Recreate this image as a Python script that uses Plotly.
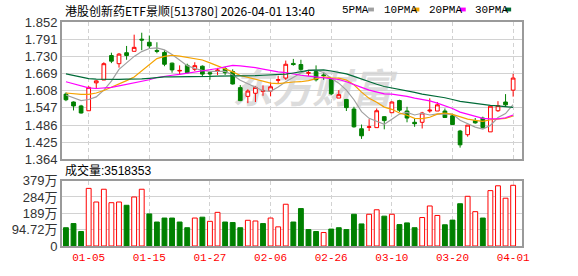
import plotly.graph_objects as go

# ---------------- data ----------------
dates = ["12-29", "12-30", "12-31",
         "01-05", "01-06", "01-07", "01-08", "01-09", "01-12", "01-13", "01-14", "01-15",
         "01-16", "01-19", "01-20", "01-21", "01-22", "01-23", "01-26", "01-27",
         "01-28", "01-29", "01-30", "02-02", "02-03", "02-04", "02-05", "02-06",
         "02-09", "02-10", "02-11", "02-12", "02-13", "02-24", "02-25", "02-26",
         "02-27", "03-02", "03-03", "03-04", "03-05", "03-06", "03-09", "03-10",
         "03-11", "03-12", "03-13", "03-16", "03-17", "03-18", "03-19", "03-20",
         "03-23", "03-24", "03-25", "03-26", "03-27", "03-30", "03-31", "04-01"]

open_ = [1.596, 1.568, 1.554, 1.537, 1.636, 1.646, 1.733, 1.704, 1.743, 1.748,
         1.791, 1.780, 1.751, 1.744, 1.706, 1.678, 1.698, 1.684, 1.695, 1.672,
         1.679, 1.686, 1.676, 1.619, 1.588, 1.599, 1.605, 1.607, 1.645, 1.653,
         1.705, 1.701, 1.670, 1.676, 1.664, 1.649, 1.582, 1.577, 1.543, 1.473,
         1.478, 1.477, 1.516, 1.530, 1.573, 1.536, 1.496, 1.496, 1.536, 1.536,
         1.536, 1.519, 1.465, 1.452, 1.502, 1.511, 1.462, 1.537, 1.568, 1.610]
high = [1.602, 1.570, 1.558, 1.624, 1.645, 1.709, 1.743, 1.742, 1.767, 1.807,
        1.814, 1.804, 1.780, 1.752, 1.708, 1.698, 1.704, 1.709, 1.698, 1.673,
        1.689, 1.693, 1.684, 1.628, 1.613, 1.624, 1.627, 1.638, 1.661, 1.715,
        1.721, 1.718, 1.679, 1.698, 1.670, 1.653, 1.610, 1.579, 1.551, 1.488,
        1.507, 1.545, 1.517, 1.570, 1.576, 1.551, 1.511, 1.533, 1.581, 1.568,
        1.545, 1.522, 1.469, 1.486, 1.511, 1.516, 1.553, 1.571, 1.596, 1.668]
low = [1.571, 1.538, 1.527, 1.537, 1.617, 1.646, 1.706, 1.690, 1.718, 1.748,
       1.752, 1.759, 1.741, 1.695, 1.672, 1.667, 1.670, 1.678, 1.659, 1.647,
       1.664, 1.664, 1.630, 1.571, 1.564, 1.568, 1.590, 1.588, 1.634, 1.647,
       1.697, 1.679, 1.661, 1.641, 1.647, 1.593, 1.582, 1.536, 1.477, 1.437,
       1.465, 1.477, 1.471, 1.530, 1.533, 1.496, 1.480, 1.474, 1.530, 1.536,
       1.513, 1.488, 1.406, 1.445, 1.491, 1.474, 1.462, 1.533, 1.551, 1.587]
close = [1.576, 1.554, 1.529, 1.620, 1.643, 1.704, 1.713, 1.738, 1.733, 1.762,
         1.788, 1.767, 1.748, 1.702, 1.682, 1.680, 1.672, 1.697, 1.667, 1.668,
         1.681, 1.672, 1.632, 1.573, 1.607, 1.620, 1.609, 1.622, 1.647, 1.702,
         1.701, 1.684, 1.672, 1.647, 1.662, 1.597, 1.594, 1.548, 1.480, 1.448,
         1.480, 1.537, 1.502, 1.568, 1.539, 1.511, 1.491, 1.529, 1.539, 1.558,
         1.513, 1.488, 1.416, 1.486, 1.494, 1.477, 1.553, 1.555, 1.558, 1.653]

ma5 = [1.593, 1.583, 1.573, 1.577, 1.586, 1.610, 1.642, 1.684, 1.706, 1.730,
       1.747, 1.758, 1.760, 1.753, 1.737, 1.716, 1.697, 1.687, 1.680, 1.677,
       1.677, 1.677, 1.664, 1.645, 1.633, 1.621, 1.608, 1.606, 1.621, 1.640,
       1.656, 1.671, 1.681, 1.681, 1.673, 1.652, 1.635, 1.610, 1.576, 1.534,
       1.510, 1.499, 1.489, 1.507, 1.525, 1.531, 1.522, 1.528, 1.522, 1.526,
       1.526, 1.525, 1.503, 1.492, 1.479, 1.472, 1.485, 1.513, 1.527, 1.559]
ma10 = [1.600, 1.597, 1.595, 1.595, 1.600, 1.609, 1.620, 1.632, 1.644, 1.657,
        1.678, 1.700, 1.722, 1.730, 1.734, 1.731, 1.727, 1.723, 1.717, 1.707,
        1.696, 1.687, 1.675, 1.662, 1.655, 1.649, 1.643, 1.635, 1.633, 1.637,
        1.639, 1.640, 1.644, 1.651, 1.657, 1.654, 1.653, 1.646, 1.629, 1.603,
        1.581, 1.567, 1.550, 1.542, 1.529, 1.521, 1.510, 1.509, 1.514, 1.525,
        1.529, 1.524, 1.515, 1.507, 1.503, 1.499, 1.505, 1.508, 1.510, 1.519]
ma20 = [1.640, 1.632, 1.624, 1.618, 1.616, 1.617, 1.620, 1.625, 1.630, 1.635,
        1.640, 1.647, 1.655, 1.660, 1.663, 1.666, 1.670, 1.676, 1.680, 1.682,
        1.687, 1.693, 1.698, 1.696, 1.694, 1.690, 1.685, 1.679, 1.675, 1.672,
        1.667, 1.663, 1.660, 1.657, 1.656, 1.652, 1.648, 1.640, 1.631, 1.620,
        1.610, 1.603, 1.597, 1.596, 1.593, 1.588, 1.582, 1.577, 1.572, 1.564,
        1.555, 1.545, 1.532, 1.524, 1.516, 1.510, 1.508, 1.508, 1.512, 1.522]
ma30 = [1.668, 1.662, 1.656, 1.651, 1.649, 1.648, 1.648, 1.648, 1.649, 1.649,
        1.650, 1.652, 1.655, 1.657, 1.657, 1.657, 1.658, 1.658, 1.659, 1.659,
        1.660, 1.660, 1.660, 1.660, 1.661, 1.662, 1.663, 1.664, 1.665, 1.667,
        1.671, 1.675, 1.680, 1.681, 1.682, 1.678, 1.674, 1.668, 1.659, 1.649,
        1.639, 1.631, 1.623, 1.618, 1.614, 1.608, 1.602, 1.596, 1.592, 1.588,
        1.583, 1.577, 1.570, 1.567, 1.563, 1.558, 1.556, 1.554, 1.551, 1.549]

volume_wan = [106, 130, 84, 334, 255, 329, 251, 255, 236, 284,
              329, 186, 139, 162, 162, 139, 106, 162, 167, 143,
              195, 139, 136, 106, 149, 145, 130, 162, 111, 242,
              139, 217, 95, 84, 78, 98, 106, 95, 184, 128,
              184, 210, 173, 184, 124, 134, 106, 165, 232, 177,
              123, 150, 245, 288, 199, 162, 321, 349, 277, 351.8353]

label_dates = ["01-05", "01-15", "01-27", "02-06", "02-26", "03-10", "03-20", "04-01"]
price_ticks = [1.364, 1.425, 1.486, 1.547, 1.608, 1.669, 1.730, 1.791, 1.852]
price_tick_text = ["1.364", "1.425", "1.486", "1.547", "1.608", "1.669", "1.730", "1.791", "1.852"]
vol_ticks = [0, 94.72, 189.45, 284.17, 378.9]
vol_tick_text = ["0", "94.72万", "189万", "284万", "379万"]
title_text = "港股创新药ETF景顺[513780] 2026-04-01 13:40"
ma_names = ["5PMA", "10PMA", "20PMA", "30PMA"]
ma_colors = ["#a0a0a0", "#f5a300", "#ff00ff", "#006b38"]
watermark = "东方财富"

# ---------------- figure ----------------
RED = "#ff0000"
GREEN = "#008000"
W, H = 578, 276
ML, MR, MT, MB = 56, 56, 22, 21
PW, PH = W - ML - MR, H - MT - MB


def px(xp):
    return (xp - ML) / PW


def py(yp):
    return (H - MB - yp) / PH


idx = list(range(len(dates)))
label_idx = [dates.index(d) for d in label_dates]

fig = go.Figure()

fig.add_trace(go.Candlestick(
    x=idx, open=open_, high=high, low=low, close=close,
    increasing=dict(line=dict(color=RED, width=1), fillcolor="#ffffff"),
    decreasing=dict(line=dict(color=GREEN, width=1), fillcolor=GREEN),
    whiskerwidth=0, xaxis="x", yaxis="y", hoverinfo="skip", showlegend=False))

for name, vals, col in zip(ma_names, [ma5, ma10, ma20, ma30], ma_colors):
    fig.add_trace(go.Scatter(x=idx, y=vals, mode="lines", name=name,
                             line=dict(color=col, width=1.2), xaxis="x", yaxis="y",
                             hoverinfo="skip", showlegend=False))

vol_fill, vol_line = [], []
for i in idx:
    ref = close[i - 1] if i > 0 else open_[0]
    up = close[i] > ref
    vol_fill.append("#ffffff" if up else GREEN)
    vol_line.append(RED if up else GREEN)

fig.add_trace(go.Bar(x=idx, y=volume_wan, width=0.64,
                     marker=dict(color=vol_fill, line=dict(color=vol_line, width=1)),
                     xaxis="x2", yaxis="y2", hoverinfo="skip", showlegend=False))

grid_c = "#d2d2d2"
frame_c = "#9a9a9a"
common_x = dict(range=[-0.52, 60.17], tickvals=label_idx, showgrid=True,
                gridcolor=grid_c, griddash="4px,3px", gridwidth=1,
                showline=True, linecolor=frame_c, linewidth=2, mirror=True,
                zeroline=False, ticks="", fixedrange=True)

fig.update_layout(
    width=W, height=H, margin=dict(l=ML, r=MR, t=MT, b=MB),
    paper_bgcolor="#ffffff", plot_bgcolor="#ffffff", boxgap=0.3,
    showlegend=False,
    xaxis=dict(**common_x, anchor="y", showticklabels=False,
               rangeslider=dict(visible=False)),
    xaxis2=dict(**common_x, anchor="y2", matches="x", showticklabels=True,
                ticktext=label_dates,
                tickfont=dict(family="Liberation Mono", size=11, color=RED)),
    yaxis=dict(domain=[py(165), 1], range=[price_ticks[0], price_ticks[-1]],
               tickvals=price_ticks, ticktext=price_tick_text,
               showgrid=True, gridcolor=grid_c, gridwidth=1,
               showline=True, linecolor=frame_c, linewidth=2, mirror=True,
               zeroline=False, ticks="", anchor="x",
               tickfont=dict(family="Liberation Sans", size=13, color="#333333")),
    yaxis2=dict(domain=[0, py(187)], range=[0, vol_ticks[-1]],
                tickvals=vol_ticks, ticktext=vol_tick_text,
                showgrid=True, gridcolor=grid_c, gridwidth=1,
                showline=True, linecolor=frame_c, linewidth=2, mirror=True,
                zeroline=False, ticks="", anchor="x2",
                tickfont=dict(family="Liberation Sans, Noto Sans CJK SC", size=13, color="#333333")),
)

ann = []
ann.append(dict(text=title_text, xref="paper", yref="paper", x=px(57), y=py(10),
                xanchor="left", yanchor="middle", showarrow=False,
                font=dict(family="Noto Sans CJK SC", size=12, color="#000000")))
ann.append(dict(text="成交量:" + str(int(round(volume_wan[-1] * 10000))),
                xref="paper", yref="paper", x=px(57), y=py(176),
                xanchor="left", yanchor="middle", showarrow=False,
                font=dict(family="Liberation Sans, Noto Sans CJK SC", size=12, color="#000000")))

legend_x = [338, 380, 426, 472]
swatch_x = [366, 412, 459, 505]
for name, lx, sx, col in zip(ma_names, legend_x, swatch_x, ma_colors):
    ann.append(dict(text=name, xref="paper", yref="paper", x=px(lx), y=py(10),
                    xanchor="left", yanchor="middle", showarrow=False,
                    font=dict(family="Liberation Mono", size=11, color="#000000")))
    fig.add_shape(type="rect", xref="paper", yref="paper",
                  x0=px(sx), x1=px(sx + 6), y0=py(11), y1=py(7),
                  line=dict(width=0), fillcolor=col)

fig.update_layout(annotations=ann)

# watermark behind the grid and candles
fig.add_shape(type="rect", xref="x", yref="y", x0=22, x1=43, y0=1.56, y1=1.65,
              line=dict(width=0), fillcolor="rgba(0,0,0,0)", layer="below",
              label=dict(text="<b><i>" + watermark + "</i></b>", textposition="middle center",
                         font=dict(family="Noto Sans CJK SC", size=40, color="#dcdcdc")))

fig.write_html("out.html")
